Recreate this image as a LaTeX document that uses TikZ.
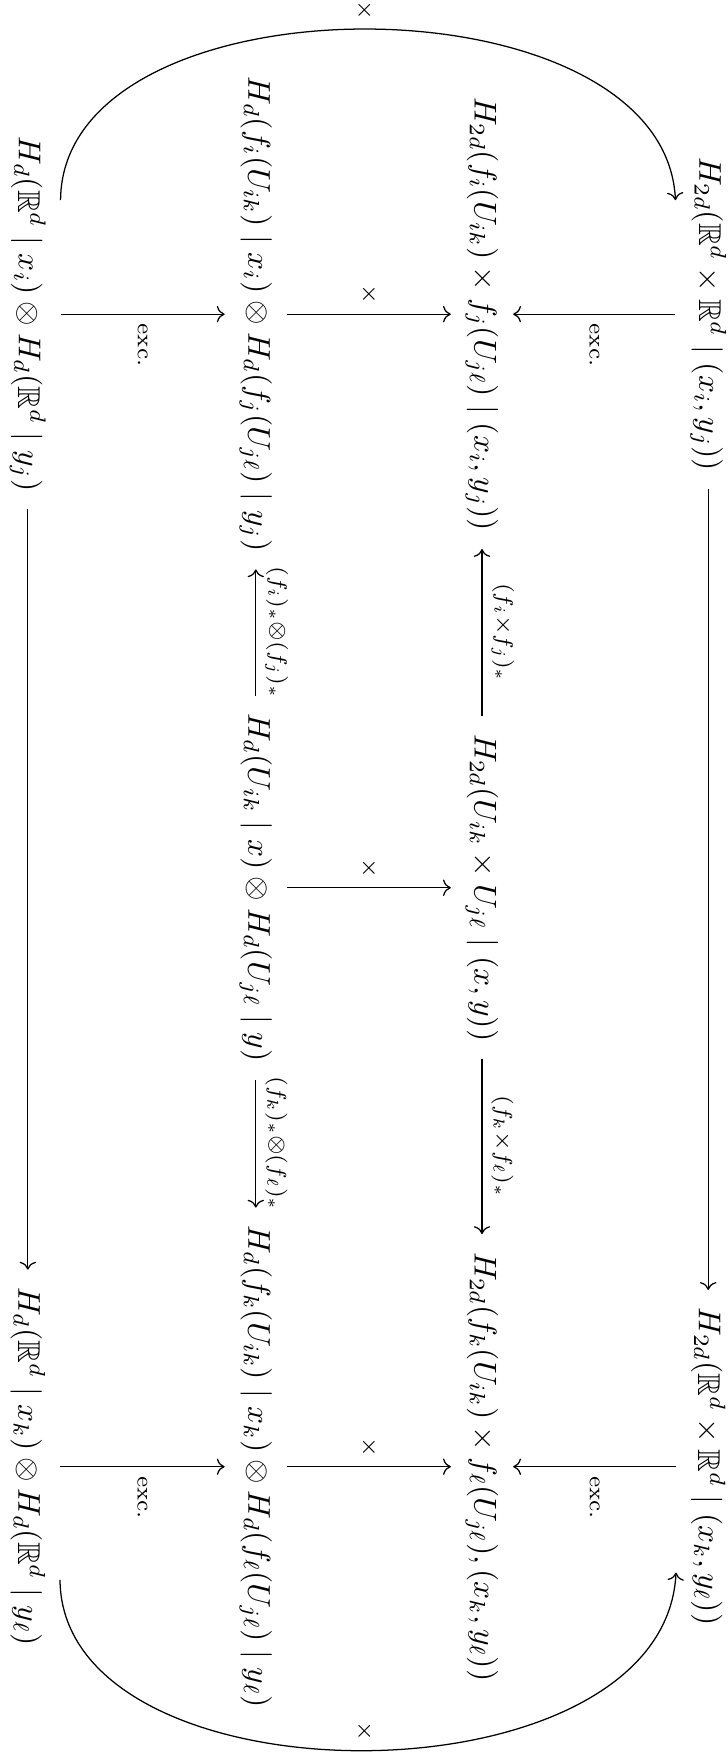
\documentclass[tikz,border=0pt]{standalone}
\usepackage{amsmath,amssymb}
\usetikzlibrary{arrows.meta}
\tikzset{
  obj/.style={inner xsep=5.5pt, inner ysep=4.5pt},
  map/.style={-{Computer Modern Rightarrow}, line width=0.4pt},
  lbl/.style={inner sep=2.8pt, execute at begin node=$\scriptstyle, execute at end node=$},
}

\begin{document}
\begin{tikzpicture}[rotate=-90, transform shape]
  \useasboundingbox (0,0) rectangle (19.53,8.11);
  % top row
  \node[obj] (t1) at (3.50,7.89) {$H_{2d}(\mathbb{R}^d\times\mathbb{R}^d\mid(x_i,y_j))$};
  \node[obj] (t3) at (16.34,7.89) {$H_{2d}(\mathbb{R}^d\times\mathbb{R}^d\mid(x_k,y_\ell))$};
  % products
  \node[obj] (m1) at (3.50,5.37) {$H_{2d}(f_i(U_{ik})\times f_j(U_{j\ell})\mid(x_i,y_j))$};
  \node[obj] (m2) at (9.89,5.37) {$H_{2d}(U_{ik}\times U_{j\ell}\mid(x,y))$};
  \node[obj] (m3) at (16.34,5.37) {$H_{2d}(f_k(U_{ik})\times f_\ell(U_{j\ell}),(x_k,y_\ell))$};
  % tensor products
  \node[obj] (n1) at (3.50,2.85) {$H_d(f_i(U_{ik})\mid x_i)\otimes H_d(f_j(U_{j\ell})\mid y_j)$};
  \node[obj] (n2) at (9.89,2.85) {$H_d(U_{ik}\mid x)\otimes H_d(U_{j\ell}\mid y)$};
  \node[obj] (n3) at (16.34,2.85) {$H_d(f_k(U_{ik})\mid x_k)\otimes H_d(f_\ell(U_{j\ell})\mid y_\ell)$};
  % bottom row
  \node[obj] (b1) at (3.50,0.31) {$H_d(\mathbb{R}^d\mid x_i)\otimes H_d(\mathbb{R}^d\mid y_j)$};
  \node[obj] (b3) at (16.34,0.31) {$H_d(\mathbb{R}^d\mid x_k)\otimes H_d(\mathbb{R}^d\mid y_\ell)$};

  \draw[map] (t1) -- (t3);
  \draw[map] (b1) -- (b3);
  \foreach \c in {1,3}{
    \draw[map] (t\c) -- node[lbl,right]{\text{exc.}} (m\c);
    \draw[map] (b\c) -- node[lbl,right]{\text{exc.}} (n\c);}
  \foreach \c in {1,2,3}
    \draw[map] (n\c) -- node[lbl,left]{\times} (m\c);
  \draw[map] (m2) -- node[lbl,above]{(f_i\times f_j)_*} (m1);
  \draw[map] (m2) -- node[lbl,above]{(f_k\times f_\ell)_*} (m3);
  \draw[map] (n2) -- node[lbl,above]{(f_i)_*\otimes(f_j)_*} (n1);
  \draw[map] (n2) -- node[lbl,above]{(f_k)_*\otimes(f_\ell)_*} (n3);
  % the two bent products
  \draw[map] ([xshift=-1.27cm]b1.north) .. controls (-0.31,0.69) and (-0.31,7.40) .. node[lbl,left]{\times} ([xshift=-1.27cm]t1.south);
  \draw[map] ([xshift=1.26cm]b3.north) .. controls (20.15,0.69) and (20.15,7.40) .. node[lbl,left]{\times} ([xshift=1.18cm]t3.south);
\end{tikzpicture}
\end{document}
